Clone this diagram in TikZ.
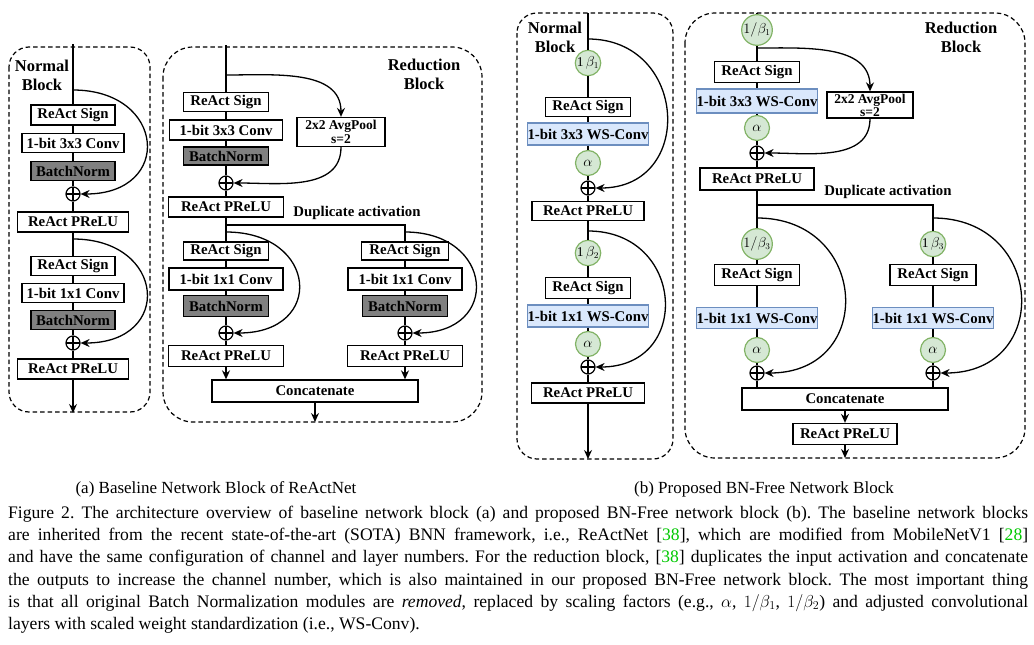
\documentclass[tikz,border=0pt]{standalone}
\usepackage{fontspec}
\setmainfont{Liberation Serif}
\usepackage{amsmath}
\usetikzlibrary{arrows.meta}
\definecolor{bngray}{RGB}{128,128,128}
\definecolor{sfgreen}{HTML}{D5E8D4}
\definecolor{sfgreenline}{HTML}{82B366}
\definecolor{wsblue}{HTML}{DAE8FC}
\definecolor{wsblueline}{HTML}{6C8EBF}
\definecolor{citegreen}{RGB}{0,200,0}
\newcommand{\cit}[1]{[\textcolor{citegreen}{#1}]}
\newcommand{\boxFont}[0]{\fontsize{14.8}{15}\selectfont\bfseries}

\begin{document}
\begin{tikzpicture}[x=1pt, y=-1pt, >={Stealth[length=9pt,width=8pt,inset=3pt]}]
  \tikzset{blk/.style={draw, line width=1.3pt, fill=white, inner sep=0pt, minimum height=20pt, font=\boxFont},
           bn/.style={blk, fill=bngray},
           ws/.style={blk, draw=wsblueline, fill=wsblue},
           sf/.style={circle, draw=sfgreenline, fill=sfgreen, line width=1.2pt, minimum size=25pt, inner sep=0pt, font=\fontsize{13.5}{13.5}\selectfont},
           add/.style={circle, draw, line width=1.2pt, minimum size=14pt, inner sep=0pt,
             path picture={\draw[line width=1.2pt] (path picture bounding box.north) -- (path picture bounding box.south)
                                                   (path picture bounding box.west) -- (path picture bounding box.east);}},
           blocktitle/.style={align=center, font=\fontsize{16.5}{19}\selectfont\bfseries},
           dashbox/.style={draw, dash pattern=on 4.5pt off 3pt, line width=1.2pt, rounded corners=#1},
           link/.style={line width=1.3pt}}
  \useasboundingbox (0,0) rectangle (1034,645);

  % (a) normal block
  \draw[dashbox=20pt] (9,47) rectangle (150,412);
  \node[blocktitle] (titA) at (42,75) {Normal\\Block};
  \coordinate (topA) at (73,44);
  \coordinate (brA1) at (73,90);
  \node[blk, minimum width=84pt] (sgnA1) at (73,115) {ReAct Sign};
  \node[blk, minimum width=102pt, minimum height=19pt] (cnvA1) at (73,143) {1-bit 3x3 Conv};
  \node[bn, minimum width=84pt, minimum height=19pt] (bnA1) at (73,171) {BatchNorm};
  \node[add] (addA1) at (73,194) {};
  \node[blk, minimum width=111pt] (prA1) at (73,222) {ReAct PReLU};
  \coordinate (brA2) at (73,239);
  \node[blk, minimum width=84pt, minimum height=19pt] (sgnA2) at (73,266) {ReAct Sign};
  \node[blk, minimum width=102pt, minimum height=19pt] (cnvA2) at (73,293) {1-bit 1x1 Conv};
  \node[bn, minimum width=84pt, minimum height=19pt] (bnA2) at (73,320) {BatchNorm};
  \node[add] (addA2) at (73,343) {};
  \node[blk, minimum width=111pt] (prA2) at (73,369) {ReAct PReLU};
  \coordinate (endA) at (73,413);
  \draw[link] (topA) -- (sgnA1) -- (cnvA1) -- (bnA1) -- (addA1) -- (prA1) -- (sgnA2) -- (cnvA2) -- (bnA2) -- (addA2) -- (prA2);
  \draw[link,->] (prA2) -- (endA);
  \draw[link,->] (brA1) .. controls +(93,0) and +(93,0) .. (addA1.east);
  \draw[link,->] (brA2) .. controls +(93,0) and +(93,0) .. (addA2.east);

  % (a) reduction block
  \draw[dashbox=30pt] (163,47) rectangle (482,422);
  \node[blocktitle] (titR) at (424,74) {Reduction\\Block};
  \coordinate (topR) at (226,45);
  \coordinate (brR) at (226,75);
  \node[blk, minimum width=85pt, minimum height=19pt] (sgnR) at (226,102) {ReAct Sign};
  \node[blk, minimum width=113pt] (cnvR) at (226,130) {1-bit 3x3 Conv};
  \node[blk, minimum width=88pt, minimum height=29pt, align=center, font=\fontsize{13.5}{14}\selectfont\bfseries] (poolR) at (341,132) {2x2 AvgPool\\s=2};
  \node[bn, minimum width=85pt, minimum height=18pt] (bnR) at (226,156) {BatchNorm};
  \node[add] (addR) at (226,183) {};
  \node[blk, minimum width=115pt] (prR) at (226,207) {ReAct PReLU};
  \node[font=\boxFont] (dupR) at (357,213) {Duplicate activation};
  \coordinate (jnR) at (226,225);
  \coordinate (jnRt) at (405,225);
  \coordinate (brL) at (226,232);
  \coordinate (brRt) at (405,232);
  \node[blk, minimum width=85pt, minimum height=18pt] (sgnL) at (226,251) {ReAct Sign};
  \node[blk, minimum width=114pt, minimum height=22pt] (cnvL) at (226,279) {1-bit 1x1 Conv};
  \node[bn, minimum width=85pt, minimum height=21pt] (bnL) at (226,306) {BatchNorm};
  \node[add] (addL) at (226,333) {};
  \node[blk, minimum width=115pt, minimum height=21pt] (prL) at (226,356) {ReAct PReLU};
  \node[blk, minimum width=87pt, minimum height=18pt] (sgnRt) at (405,251) {ReAct Sign};
  \node[blk, minimum width=114pt, minimum height=22pt] (cnvRt) at (405,279) {1-bit 1x1 Conv};
  \node[bn, minimum width=85pt, minimum height=21pt] (bnRt) at (405,306) {BatchNorm};
  \node[add] (addRt) at (405,333) {};
  \node[blk, minimum width=115pt, minimum height=21pt] (prRt) at (405,356) {ReAct PReLU};
  \node[blk, minimum width=206pt, minimum height=22pt] (catR) at (315,391) {Concatenate};
  \coordinate (endR) at (315,422);
  \draw[link] (topR) -- (sgnR) -- (cnvR) -- (bnR) -- (addR) -- (prR) -- (jnR) -- (jnRt) -- (sgnRt) -- (cnvRt) -- (bnRt) -- (addRt) -- (prRt);
  \draw[link] (jnR) -- (sgnL) -- (cnvL) -- (bnL) -- (addL) -- (prL);
  \draw[link,->] (prL) -- (prL |- catR.north);
  \draw[link,->] (prRt) -- (prRt |- catR.north);
  \draw[link,->] (catR) -- (endR);
  \draw[link,->] (brR) to[out=0, in=90] (poolR.north);
  \draw[link,->] (poolR.south) to[out=-90, in=0] (addR.east);
  \draw[link,->] (brL) .. controls +(92,0) and +(92,0) .. (addL.east);
  \draw[link,->] (brRt) .. controls +(89,0) and +(89,0) .. (addRt.east);

  % (b) normal block
  \draw[dashbox=20pt] (517,13) rectangle (673,459);
  \node[blocktitle] (titB) at (555,37) {Normal\\Block};
  \coordinate (topB) at (588,13);
  \coordinate (brB1) at (588,39);
  \node[sf] (sfB1) at (588,63) {1\,$\beta_1$};
  \node[blk, minimum width=85pt, minimum height=19pt] (sgnB1) at (588,107) {ReAct Sign};
  \node[ws, minimum width=113pt, minimum height=22pt] (wsB1) at (588,134) {1-bit 3x3 WS-Conv};
  \node[sf, font=\fontsize{15}{15}\selectfont] (alB1) at (588,163) {$\alpha$};
  \node[add] (addB1) at (588,188) {};
  \node[blk, minimum width=112pt, minimum height=19pt] (prB1) at (588,211) {ReAct PReLU};
  \coordinate (brB2) at (588,231);
  \node[sf] (sfB2) at (588,253) {1\,$\beta_2$};
  \node[blk, minimum width=85pt, minimum height=21pt] (sgnB2) at (588,288) {ReAct Sign};
  \node[ws, minimum width=113pt, minimum height=22pt] (wsB2) at (588,316) {1-bit 1x1 WS-Conv};
  \node[sf, font=\fontsize{15}{15}\selectfont] (alB2) at (588,344) {$\alpha$};
  \node[add] (addB2) at (588,367) {};
  \node[blk, minimum width=113pt] (prB2) at (588,393) {ReAct PReLU};
  \coordinate (endB) at (588,459);
  \draw[link] (topB) -- (sfB1) -- (sgnB1) -- (wsB1) -- (alB1) -- (addB1) -- (prB1) -- (sfB2) -- (sgnB2) -- (wsB2) -- (alB2) -- (addB2) -- (prB2);
  \draw[link,->] (prB2) -- (endB);
  \draw[link,->] (brB1) .. controls +(100,0) and +(100,0) .. (addB1.east);
  \draw[link,->] (brB2) .. controls +(97,0) and +(97,0) .. (addB2.east);

  % (b) reduction block
  \draw[dashbox=30pt] (685,13) rectangle (1025,458);
  \node[blocktitle] (titS) at (961,37) {Reduction\\Block};
  \coordinate (topS) at (757,13);
  \node[sf] (sfS1) at (757,30) {$1/\beta_1$};
  \coordinate (brS) at (757,48);
  \node[blk, minimum width=85pt, minimum height=21pt] (sgnS) at (757,72) {ReAct Sign};
  \node[ws, minimum width=115pt, minimum height=24pt] (wsS) at (757,101) {1-bit 3x3 WS-Conv};
  \node[blk, minimum width=86pt, minimum height=26pt, align=center, font=\fontsize{13.5}{13}\selectfont\bfseries] (poolS) at (870,105) {2x2 AvgPool\\s=2};
  \node[sf, font=\fontsize{15}{15}\selectfont] (alS) at (757,128) {$\alpha$};
  \node[add] (addS) at (757,153) {};
  \node[blk, minimum width=114pt, minimum height=22pt] (prS) at (757,179) {ReAct PReLU};
  \node[font=\boxFont] (dupS) at (888,192) {Duplicate activation};
  \coordinate (jnS) at (757,205);
  \coordinate (jnSt) at (933,205);
  \coordinate (brSL) at (757,218);
  \coordinate (brSt) at (933,218);
  \node[sf] (sfSL) at (757,244) {$1/\beta_3$};
  \node[blk, minimum width=85pt, minimum height=21pt] (sgnSL) at (757,275) {ReAct Sign};
  \node[ws, minimum width=115pt, minimum height=21pt] (wsSL) at (757,318) {1-bit 1x1 WS-Conv};
  \node[sf, font=\fontsize{15}{15}\selectfont] (alSL) at (757,350) {$\alpha$};
  \node[add] (addSL) at (757,373) {};
  \node[sf] (sfSt) at (933,244) {1\,$\beta_3$};
  \node[blk, minimum width=86pt, minimum height=21pt] (sgnSt) at (933,275) {ReAct Sign};
  \node[ws, minimum width=114pt, minimum height=21pt] (wsSt) at (933,318) {1-bit 1x1 WS-Conv};
  \node[sf, font=\fontsize{15}{15}\selectfont] (alSt) at (933,350) {$\alpha$};
  \node[add] (addSt) at (933,373) {};
  \node[blk, minimum width=206pt, minimum height=22pt] (catS) at (845,399) {Concatenate};
  \node[blk, minimum width=104pt, minimum height=21pt] (prSf) at (845,434) {ReAct PReLU};
  \coordinate (endS) at (845,458);
  \draw[link] (topS) -- (sfS1) -- (sgnS) -- (wsS) -- (alS) -- (addS) -- (prS) -- (jnS) -- (jnSt) -- (sfSt) -- (sgnSt) -- (wsSt) -- (alSt) -- (addSt) -- (addSt |- catS.north);
  \draw[link] (jnS) -- (sfSL) -- (sgnSL) -- (wsSL) -- (alSL) -- (addSL) -- (addSL |- catS.north);
  \draw[link,->] (catS) -- (prSf);
  \draw[link,->] (prSf) -- (endS);
  \draw[link,->] (brS) to[out=0, in=90] (poolS.north);
  \draw[link,->] (poolS.south) to[out=-90, in=0] (addS.east);
  \draw[link,->] (brSL) .. controls +(112,0) and +(112,0) .. (addSL.east);
  \draw[link,->] (brSt) .. controls +(112,0) and +(112,0) .. (addSt.east);

  % captions
  \node[font=\fontsize{17}{20}\selectfont] (subA) at (216,489) {(a) Baseline Network Block of ReActNet};
  \node[font=\fontsize{17}{20}\selectfont] (subB) at (764,489) {(b) Proposed BN-Free Network Block};
  \node[anchor=north west, text width=1020pt, inner sep=0pt, align=justify, font=\fontsize{17.6}{22.2}\selectfont\frenchspacing] (cap) at (8,506)
    {Figure 2. The architecture overview of baseline network block (a) and proposed BN-Free network block (b). The baseline network blocks\linebreak
     are inherited from the recent state-of-the-art (SOTA) BNN framework, i.e., ReActNet \cit{38}, which are modified from MobileNetV1 \cit{28}\linebreak
     and have the same configuration of channel and layer numbers. For the reduction block, \cit{38} duplicates the input activation and concatenate\linebreak
     the outputs to increase the channel number, which is also maintained in our proposed BN-Free network block. The most important thing\linebreak
     is that all original Batch Normalization modules are \emph{removed}, replaced by scaling factors (e.g., $\alpha$, $1/\beta_1$, $1/\beta_2$) and adjusted convolutional\linebreak
     layers with scaled weight standardization (i.e., WS-Conv).};
\end{tikzpicture}
\end{document}
